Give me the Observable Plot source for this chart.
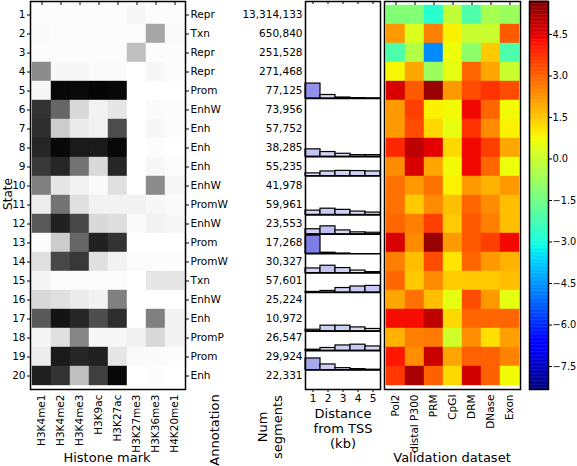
<!DOCTYPE html>
<html>
<head>
<meta charset="utf-8">
<script src="https://cdn.jsdelivr.net/npm/d3@7"></script>
<script src="https://cdn.jsdelivr.net/npm/@observablehq/plot@0.6"></script>
<style>
  html, body { margin: 0; padding: 0; background: #fff; }
  #chart { position: relative; width: 577px; height: 466px; overflow: hidden; font-family: "DejaVu Sans", sans-serif; }
  #chart svg { position: absolute; left: 0; top: 0; }
  .title { position: absolute; font-size: 13px; line-height: 15px; white-space: pre; text-align: center; color: #000; }
</style>
</head>
<body>
<div id="chart"></div>
<script>
// ---------- data ----------
const states = [1,2,3,4,5,6,7,8,9,10,11,12,13,14,15,16,17,18,19,20];
const annotations = ["Repr","Txn","Repr","Repr","Prom","EnhW","Enh","Enh","Enh","EnhW","PromW","EnhW","Prom","PromW","Txn","EnhW","Enh","PromP","Prom","Enh"];
const numSegments = [13314133,650840,251528,271468,77125,73956,57752,38285,55235,41978,59961,23553,17268,30327,57601,25224,10972,26547,29924,22331];

const histoneMarks = ["H3K4me1","H3K4me2","H3K4me3","H3K9ac","H3K27ac","H3K27me3","H3K36me3","H4K20me1"];
const h3k4me1  = [0.01,0.02,0.01,0.45,0.03,0.80,0.82,0.85,0.78,0.50,0.07,0.65,0.01,0.12,0.04,0.15,0.65,0.04,0.07,0.88];
const h3k4me2  = [0.01,0.01,0.01,0.03,0.97,0.60,0.20,0.97,0.85,0.10,0.55,0.87,0.20,0.72,0.01,0.12,0.92,0.12,0.90,0.80];
const h3k4me3  = [0.01,0.01,0.01,0.03,0.96,0.15,0.08,0.90,0.55,0.05,0.12,0.72,0.60,0.78,0.01,0.08,0.85,0.48,0.85,0.25];
const h3k9ac   = [0.01,0.01,0.01,0.02,0.98,0.05,0.05,0.90,0.15,0.02,0.05,0.15,0.87,0.12,0.01,0.05,0.70,0.03,0.87,0.75];
const h3k27ac  = [0.01,0.01,0.01,0.02,0.97,0.10,0.70,0.97,0.85,0.12,0.05,0.13,0.80,0.05,0.01,0.50,0.82,0.03,0.10,0.97];
const h3k27me3 = [0.03,0.01,0.25,0.00,0.00,0.00,0.00,0.00,0.00,0.00,0.05,0.02,0.00,0.01,0.00,0.00,0.00,0.06,0.02,0.00];
const h3k36me3 = [0.01,0.35,0.01,0.03,0.00,0.02,0.03,0.01,0.03,0.45,0.03,0.05,0.00,0.01,0.10,0.00,0.50,0.15,0.02,0.01];
const h4k20me1 = [0.01,0.02,0.01,0.01,0.00,0.01,0.01,0.00,0.01,0.03,0.02,0.03,0.00,0.01,0.10,0.00,0.05,0.05,0.01,0.00];

const tssBins = [1,2,3,4,5];
const tssBin1 = [0,0,0,0,0.77,0,0,0.38,0.14,0,0.22,0.26,0.93,0.24,0.03,0,0.08,0.05,0.60,0];
const tssBin2 = [0,0,0,0,0.18,0,0,0.24,0.24,0,0.32,0.41,0.05,0.38,0.08,0,0.29,0.14,0.29,0];
const tssBin3 = [0,0,0,0,0.05,0,0,0.15,0.27,0,0.26,0.20,0.01,0.26,0.23,0,0.29,0.27,0.10,0];
const tssBin4 = [0,0,0,0,0.02,0,0,0.08,0.26,0,0.17,0.10,0.00,0.13,0.31,0,0.20,0.31,0.05,0];
const tssBin5 = [0,0,0,0,0.01,0,0,0.08,0.24,0,0.12,0.08,0.00,0.05,0.34,0,0.12,0.22,0.02,0];
const tssPanelBreaks = [5,8,9,11,12,13,14,15,17,18,19];

const validationSets = ["Pol2","distal P300","PRM","CpGI","DRM","DNase","Exon"];
const pol2   = [-1.24,2.16,-2.11,0.75,4.62,2.16,2.16,3.87,2.35,2.73,2.73,2.92,4.62,2.54,2.92,1.97,4.25,1.79,4.10,3.60];
const p300   = [-1.24,0.28,-0.38,1.97,3.11,3.49,3.30,4.93,4.62,2.16,1.41,2.54,2.35,1.60,1.41,2.73,4.25,2.54,2.30,5.20];
const prm    = [-2.77,2.54,-4.65,-0.81,5.39,0.84,1.22,4.47,1.97,2.73,2.35,3.49,5.39,3.30,2.35,1.60,4.93,2.60,4.80,3.00];
const cpgi   = [-0.16,0.84,0.60,0.49,2.16,0.70,0.49,1.22,0.70,0.84,1.60,1.41,2.16,1.03,1.41,0.49,1.22,0.10,2.00,1.20];
const drm    = [-2.11,0.00,-1.03,2.92,3.30,4.31,3.68,4.31,4.31,2.16,2.92,3.11,3.11,2.92,1.41,3.30,2.92,2.30,3.00,4.70];
const dnase  = [-0.59,0.00,1.41,1.97,3.68,2.92,2.35,3.49,2.92,1.79,2.35,2.54,3.49,2.16,1.41,2.16,2.92,1.10,3.00,3.00];
const exon   = [-0.81,3.11,-2.11,0.00,3.30,0.70,0.84,1.97,0.60,2.16,1.60,1.60,4.30,1.79,1.60,0.49,2.92,2.05,2.50,0.70];

const colorbarTicks = [-7.5,-6.0,-4.5,-3.0,-1.5,0.0,1.5,3.0,4.5];
const colorDomain = [-8.33, 5.69];

// ---------- derived tables ----------
const histoneSeries = [h3k4me1,h3k4me2,h3k4me3,h3k9ac,h3k27ac,h3k27me3,h3k36me3,h4k20me1];
const histoneCells = histoneMarks.flatMap((m, j) => states.map((s, i) => ({mark: m, state: s, value: histoneSeries[j][i]})));
const tssSeries = [tssBin1,tssBin2,tssBin3,tssBin4,tssBin5];
const tssBars = tssBins.flatMap((b, j) => states.map((s, i) => ({bin: b, state: s, freq: tssSeries[j][i]}))).filter(d => d.freq > 0);
const validationSeries = [pol2,p300,prm,cpgi,drm,dnase,exon];
const validationCells = validationSets.flatMap((v, j) => states.map((s, i) => ({set: v, state: s, value: validationSeries[j][i]})));

// matplotlib "jet" colormap as piecewise-linear stops
function lin(t, pts) {
  for (let k = 1; k < pts.length; k++) {
    if (t <= pts[k][0]) {
      const [t0, v0] = pts[k-1], [t1, v1] = pts[k];
      return v0 + (v1 - v0) * (t - t0) / (t1 - t0);
    }
  }
  return pts[pts.length-1][1];
}
function jet(t) {
  const r = lin(t, [[0,0],[0.35,0],[0.66,1],[0.89,1],[1,0.5]]);
  const g = lin(t, [[0,0],[0.125,0],[0.375,1],[0.64,1],[0.91,0],[1,0]]);
  const b = lin(t, [[0,0.5],[0.11,1],[0.34,1],[0.65,0],[1,0]]);
  return d3.rgb(r*255, g*255, b*255).formatHex();
}
const jetStops = [0,0.11,0.125,0.34,0.35,0.375,0.64,0.65,0.66,0.89,0.91,1];
const jetScale = {
  type: "linear",
  domain: jetStops.map(t => colorDomain[0] + t * (colorDomain[1] - colorDomain[0])),
  range: jetStops.map(jet),
  interpolate: "rgb"
};

const W = 577, H = 466, TOP = 1, BOTTOM = 77;
const FS = 10.5;
const baseStyle = {fontFamily: "DejaVu Sans", fontSize: FS + "px", background: "transparent", overflow: "visible", color: "black"};
const chart = document.getElementById("chart");
function add(p) { p.style.position = "absolute"; p.style.left = "0px"; p.style.top = "0px"; p.style.background = "transparent"; chart.appendChild(p); }

// ---------- histone heatmap ----------
add(Plot.plot({
  width: W, height: H, marginTop: TOP, marginBottom: BOTTOM, marginLeft: 30, marginRight: W - 185,
  style: baseStyle,
  x: {domain: histoneMarks, padding: 0, label: null, axis: null},
  y: {domain: states, padding: 0, label: null, axis: null},
  color: {type: "linear", domain: [0, 1], range: ["#ffffff", "#000000"]},
  marks: [
    Plot.cell(histoneCells, {x: "mark", y: "state", fill: "value", stroke: "value", strokeWidth: 0.4, inset: 0}),
    Plot.tickX(histoneMarks, {x: d => d, insetBottom: 384, stroke: "black"}),
    Plot.axisX({anchor: "bottom", tickRotate: -90, tickSize: 0, tickPadding: 5, fontSize: FS, label: null}),
    Plot.axisY({anchor: "left", tickSize: 3, tickPadding: 2, fontSize: FS, label: null}),
    Plot.axisY({anchor: "right", tickSize: 3, tickPadding: 2, fontSize: FS, label: null, tickFormat: s => annotations[s - 1]}),
    Plot.axisY({anchor: "right", tickSize: 0, tickPadding: 117, textAnchor: "end", fontSize: FS, label: null, tickFormat: s => d3.format(",")(numSegments[s - 1])}),
    Plot.frame({stroke: "black", strokeWidth: 1.5})
  ]
}));

// ---------- distance from TSS ----------
add(Plot.plot({
  width: W, height: H, marginTop: TOP, marginBottom: BOTTOM, marginLeft: 305, marginRight: W - 380,
  style: baseStyle,
  x: {domain: [0.5, 5.5], label: null, axis: null},
  y: {domain: [20, 0], label: null, axis: null},
  color: {type: "linear", domain: [0, 0.95], range: ["#f2f2fc", "#7b7be6"]},
  marks: [
    Plot.rect(tssBars, {x1: d => d.bin - 0.5, x2: d => d.bin + 0.5, y1: d => d.state, y2: d => d.state - d.freq, fill: "freq", stroke: "black", strokeWidth: 1.2}),
    Plot.ruleY(tssPanelBreaks, {stroke: "black", strokeWidth: 1.5}),
    Plot.tickX(tssBins, {x: d => d, insetBottom: 385, stroke: "black"}),
    Plot.axisX({anchor: "bottom", ticks: tssBins, tickSize: 3, tickPadding: 2, fontSize: FS, label: null, tickFormat: d3.format("d")}),
    Plot.frame({stroke: "black", strokeWidth: 1.5})
  ]
}));

// ---------- validation heatmap ----------
add(Plot.plot({
  width: W, height: H, marginTop: TOP, marginBottom: BOTTOM, marginLeft: 384, marginRight: W - 520,
  style: baseStyle,
  x: {domain: validationSets, padding: 0, label: null, axis: null},
  y: {domain: states, padding: 0, label: null, axis: null},
  color: jetScale,
  marks: [
    Plot.cell(validationCells, {x: "set", y: "state", fill: "value", stroke: "value", strokeWidth: 0.4, inset: 0}),
    Plot.tickX(validationSets, {x: d => d, insetBottom: 384, stroke: "black"}),
    Plot.axisX({anchor: "bottom", tickRotate: -90, tickSize: 0, tickPadding: 5, fontSize: FS, label: null}),
    Plot.frame({stroke: "black", strokeWidth: 1.5})
  ]
}));

// ---------- colorbar ----------
const cbStep = (colorDomain[1] - colorDomain[0]) / 280;
const cbLevels = d3.range(280).map(i => colorDomain[0] + i * cbStep);
add(Plot.plot({
  width: W, height: H, marginTop: TOP, marginBottom: BOTTOM, marginLeft: 529, marginRight: W - 548,
  style: baseStyle,
  x: {domain: [0, 1], axis: null},
  y: {domain: colorDomain, label: null, axis: null},
  color: jetScale,
  marks: [
    Plot.rect(cbLevels, {x1: 0, x2: 1, y1: d => d, y2: d => d + cbStep * 1.3, fill: d => d + cbStep / 2}),
    Plot.axisY({anchor: "right", ticks: colorbarTicks, tickSize: 3, tickPadding: 1, fontSize: 9.8, label: null, tickFormat: d3.format(".1f")}),
    Plot.frame({stroke: "black", strokeWidth: 1.5})
  ]
}));

// ---------- titles ----------
function title(text, cx, cy, rotate, fontSize, lineHeight) {
  const d = document.createElement("div");
  d.className = "title";
  d.textContent = text;
  d.style.left = cx + "px";
  d.style.top = cy + "px";
  if (fontSize) d.style.fontSize = fontSize + "px";
  if (lineHeight) d.style.lineHeight = lineHeight + "px";
  d.style.transform = "translate(-50%,-50%)" + (rotate ? " rotate(-90deg)" : "");
  chart.appendChild(d);
}
title("State", 7.5, 194, true, 12, 14);
title("Histone mark", 107, 457, false);
title("Annotation", 214, 430, true);
title("Num\nsegments", 270, 427, true);
title("Distance\nfrom TSS\n(kb)", 343, 428, false);
title("Validation dataset", 452, 457, false);
</script>
</body>
</html>
